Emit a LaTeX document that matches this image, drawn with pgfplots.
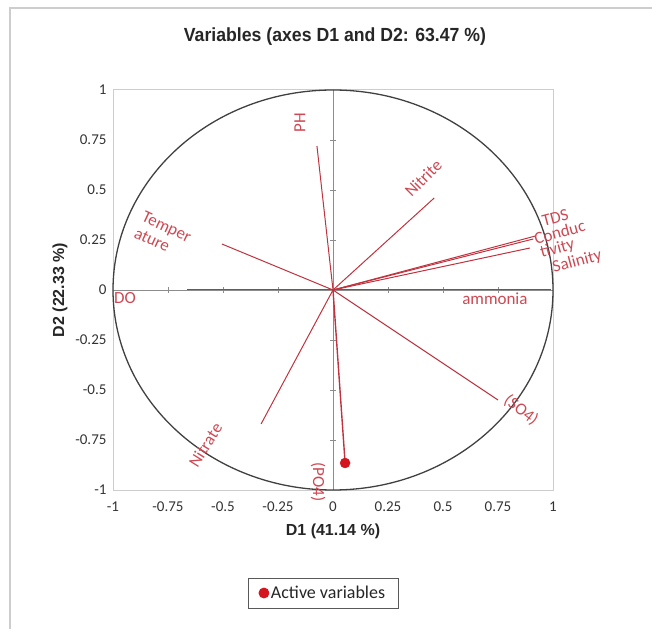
\documentclass[border=0pt]{standalone}
\usepackage{pgfplots}
\pgfplotsset{compat=1.18}
\usepackage{fontspec}
\setmainfont{Carlito}
\newfontfamily\arialf{Liberation Sans}
\definecolor{vecred}{RGB}{192,50,62}
\definecolor{labred}{RGB}{205,72,82}
\definecolor{dotred}{RGB}{212,20,30}
\definecolor{framegray}{RGB}{205,205,205}
\newcommand{\lab}{\fontsize{17}{18}\selectfont}
\begin{document}
\begin{tikzpicture}[x=1pt,y=1pt]
\path[use as bounding box] (0,0) rectangle (652,629);
\draw[framegray, line width=2.5pt] (10,0) -- (10,621) -- (652,621);
\node[font=\arialf\bfseries\fontsize{19}{20}\selectfont, text=black!85] at (335,592) {\scalebox{0.93}[1]{Variables (axes D1 and D2: 63.47 \%)}};
\node[font=\arialf\bfseries\fontsize{16}{17}\selectfont, text=black!85] at (333,98) {D1 (41.14 \%)};
\node[font=\arialf\bfseries\fontsize{16}{17}\selectfont, text=black!85, rotate=90] at (60,339) {D2 (22.33 \%)};
\begin{axis}[
  at={(113pt,139pt)}, anchor=south west,
  scale only axis, width=440pt, height=400pt,
  xmin=-1, xmax=1, ymin=-1, ymax=1,
  xtick={-1,-0.75,-0.5,-0.25,0,0.25,0.5,0.75,1},
  xticklabels={-1,-0.75,-0.5,-0.25,0,0.25,0.5,0.75,1},
  ytick={-1,-0.75,-0.5,-0.25,0,0.25,0.5,0.75,1},
  yticklabels={-1,-0.75,-0.5,-0.25,0,0.25,0.5,0.75,1},
  tick style={draw=none},
  axis line style={framegray, line width=1pt},
  tick label style={font=\fontsize{15}{15}\selectfont, text=black!80},
  xticklabel style={yshift=-8pt},
  yticklabel style={xshift=-3pt},
  clip=false,
  legend style={at={(axis description cs:0.4773,-0.2575)}, anchor=center,
    draw=black!65, line width=0.8pt, font=\fontsize{18}{19}\selectfont,
    text=black!85, inner xsep=11pt, inner ysep=6pt},
  legend cell align=left,
]
% centre axes
\draw[black!45, line width=0.8pt] (axis cs:-1,0) -- (axis cs:1,0);
\draw[black!45, line width=0.8pt] (axis cs:0,-1) -- (axis cs:0,1);
\pgfplotsinvokeforeach{-0.75,-0.5,-0.25,0.25,0.5,0.75}{
  \draw[black!45, line width=0.6pt] ([xshift=-3pt]axis cs:0,#1) -- ([xshift=3pt]axis cs:0,#1);
  \draw[black!45, line width=0.6pt] ([yshift=-3pt]axis cs:#1,0) -- ([yshift=3pt]axis cs:#1,0);
}
% correlation circle
\draw[black!75, line width=1.3pt] (axis cs:0,0) ellipse [x radius=1, y radius=1];
% variable vectors
\addplot[vecred, line width=1pt, forget plot] coordinates {(0,0) (-0.073,0.720)}; % PH
\addplot[vecred, line width=1pt, forget plot] coordinates {(0,0) (-0.505,0.230)}; % Temperature
\addplot[vecred, line width=1pt, forget plot] coordinates {(0,0) (-0.664,0)}; % DO
\addplot[vecred, line width=1pt, forget plot] coordinates {(0,0) (0.460,0.460)}; % Nitrite
\addplot[vecred, line width=1pt, forget plot] coordinates {(0,0) (0.920,0.270)}; % TDS
\addplot[vecred, line width=1pt, forget plot] coordinates {(0,0) (0.910,0.255)}; % Conductivity
\addplot[vecred, line width=1pt, forget plot] coordinates {(0,0) (0.895,0.210)}; % Salinity
\addplot[vecred, line width=1pt, forget plot] coordinates {(0,0) (0.990,0)}; % ammonia
\addplot[vecred, line width=1pt, forget plot] coordinates {(0,0) (0.750,-0.550)}; % SO4
\addplot[vecred, line width=1pt, forget plot] coordinates {(0,0) (-0.327,-0.670)}; % Nitrate
\addplot[vecred, line width=1.4pt, forget plot] coordinates {(0,0) (0.055,-0.865)}; % PO4
\addplot[only marks, mark=*, mark size=5pt, dotred, mark options={draw=dotred, fill=dotred}] coordinates {(0.055,-0.865)};
\addlegendentry{Active variables}
% labels
\node[labred, font=\lab, rotate=90] at (axis cs:-0.15,0.835) {PH};
\node[labred, font=\lab, rotate=-25, align=left] at (axis cs:-0.773,0.275) {Temper\\ature};
\node[labred, font=\lab] at (axis cs:-0.945,-0.04) {DO};
\node[labred, font=\lab, rotate=45] at (axis cs:0.41,0.56) {Nitrite};
\node[labred, font=\lab, rotate=15] at (axis cs:1.01,0.36) {TDS};
\node[labred, font=\lab, rotate=15] at (axis cs:1.03,0.29) {Conduc};
\node[labred, font=\lab, rotate=15] at (axis cs:1.02,0.205) {tivity};
\node[labred, font=\lab, rotate=15] at (axis cs:1.11,0.14) {Salinity};
\node[labred, font=\lab] at (axis cs:0.736,-0.045) {ammonia};
\node[labred, font=\lab, rotate=-37] at (axis cs:0.855,-0.60) {(SO4)};
\node[labred, font=\lab, rotate=58] at (axis cs:-0.58,-0.775) {Nitrate};
\node[labred, font=\lab, rotate=-90] at (axis cs:-0.068,-0.96) {(PO4)};
\end{axis}
\end{tikzpicture}
\end{document}
